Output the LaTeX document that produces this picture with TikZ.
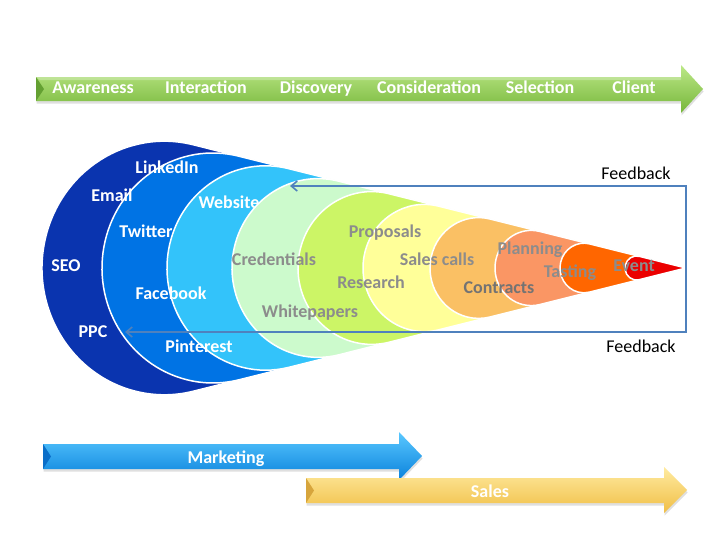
\documentclass[tikz,border=0pt]{standalone}
\usepackage{fontspec}
\setmainfont{Carlito}
\usetikzlibrary{arrows.meta,shadows}
\definecolor{lay1}{RGB}{10,52,175}
\definecolor{lay2}{RGB}{0,115,228}
\definecolor{lay3}{RGB}{51,195,250}
\definecolor{lay4}{RGB}{204,250,204}
\definecolor{lay5}{RGB}{204,245,102}
\definecolor{lay6}{RGB}{255,255,153}
\definecolor{lay7}{RGB}{250,192,100}
\definecolor{lay8}{RGB}{250,150,100}
\definecolor{lay9}{RGB}{255,102,0}
\definecolor{lay10}{RGB}{235,0,0}
\definecolor{greytxt}{RGB}{140,140,140}
\definecolor{darkgreytxt}{RGB}{115,115,115}
\definecolor{fbblue}{RGB}{79,129,189}
\definecolor{grLight}{RGB}{188,232,135}
\definecolor{grMain}{RGB}{150,212,85}
\definecolor{grDark}{RGB}{118,182,58}
\definecolor{grBevel}{RGB}{100,160,50}
\definecolor{blLight}{RGB}{90,200,255}
\definecolor{blMain}{RGB}{20,160,240}
\definecolor{blDark}{RGB}{10,130,220}
\definecolor{blBevel}{RGB}{10,110,200}
\definecolor{yeLight}{RGB}{255,235,160}
\definecolor{yeMain}{RGB}{255,215,100}
\definecolor{yeDark}{RGB}{240,190,70}
\definecolor{yeBevel}{RGB}{215,165,60}
\newcommand\funnellayer[2]{%
  \pgfmathsetmacro\fL{686-#1}%
  \pgfmathsetmacro\frx{0.19*\fL}%
  \pgfmathsetmacro\fry{0.1969*\fL}%
  \pgfmathsetmacro\fxc{#1+\frx}%
  \pgfmathsetmacro\fth{acos(0.19/0.81)}%
  \pgfmathsetmacro\fsx{\fxc+\frx*cos(\fth)}%
  \pgfmathsetmacro\fsy{268-\fry*sin(\fth)}%
  \filldraw[layer, fill=#2] (tip) -- (\fsx,\fsy)
    arc[start angle=\fth, end angle=360-\fth, x radius=\frx pt, y radius=\fry pt] -- cycle;}
\tikzset{
  lab/.style={font=\fontsize{18}{20}\selectfont\bfseries, inner sep=0pt, anchor=base},
  wlab/.style={lab, text=white},
  glab/.style={lab, text=greytxt},
  dglab/.style={lab, text=darkgreytxt},
  fbtext/.style={font=\fontsize{18}{20}\selectfont, inner sep=0pt, anchor=base, text=black},
  layer/.style={draw=white, line width=1.5pt, line join=round},
  fbline/.style={draw=fbblue, line width=1.6pt,
    {Straight Barb[length=6pt,width=10pt]}-{Straight Barb[length=6pt,width=10pt]}},
  blockarrow/.style={draw=none, drop shadow={opacity=0.25, shadow xshift=0.5pt, shadow yshift=-2.5pt}},
  greenarrow/.style={blockarrow, top color=grLight, middle color=grMain, bottom color=grDark},
  bluearrow/.style={blockarrow, top color=blLight, middle color=blMain, bottom color=blDark},
  yellowarrow/.style={blockarrow, top color=yeLight, middle color=yeMain, bottom color=yeDark}
}
\begin{document}
\begin{tikzpicture}[x=1pt, y=-1pt]
\useasboundingbox[fill=white] (0,0) rectangle (728,546);

% top stage arrow
\path[greenarrow] (36,77) -- (681,77) -- (681,65) -- (703,89) -- (681,113) -- (681,101) -- (36,101) -- cycle;
\fill[grBevel] (36,77) -- (44,89) -- (36,101) -- cycle;
\fill[white, opacity=0.25] (36,77) -- (681,77) -- (681,80) -- (40,80) -- cycle;
\node[wlab] (aw) at (93,93) {Awareness};
\node[wlab] (in) at (206,93) {Interaction};
\node[wlab] (di) at (316,93) {Discovery};
\node[wlab] (co) at (429,93) {Consideration};
\node[wlab] (se) at (540,93) {Selection};
\node[wlab] (cl) at (634,93) {Client};

% funnel
\coordinate (tip) at (686,268);
\funnellayer{42}{lay1}
\funnellayer{102}{lay2}
\funnellayer{167}{lay3}
\node[wlab] (website) at (229,208) {Website};
\funnellayer{232}{lay4}
\funnellayer{298}{lay5}
\funnellayer{363}{lay6}
\funnellayer{430}{lay7}
\funnellayer{495}{lay8}
\funnellayer{560}{lay9}
\funnellayer{625}{lay10}

\node[wlab] (linkedin) at (167,173) {LinkedIn};
\node[wlab] (email) at (112,201) {Email};
\node[wlab] (twitter) at (146,237) {Twitter};
\node[wlab] (seo) at (66,271) {SEO};
\node[wlab] (facebook) at (171,299) {Facebook};
\node[wlab] (ppc) at (93,337) {PPC};
\node[wlab] (pinterest) at (199,352) {Pinterest};
\node[glab] (credentials) at (274,265) {Credentials};
\node[glab] (whitepapers) at (310,317) {Whitepapers};
\node[glab] (proposals) at (385,237) {Proposals};
\node[glab] (research) at (371,288) {Research};
\node[glab] (salescalls) at (437,265) {Sales calls};
\node[dglab] (contracts) at (499,293) {Contracts};
\node[glab] (planning) at (530,254) {Planning};
\node[glab] (tasting) at (570,277) {Tasting};
\node[glab] (event) at (634,271) {Event};

% feedback loop
\coordinate (fbtop) at (290,186);
\coordinate (fbtr) at (686,186);
\coordinate (fbbr) at (686,332);
\coordinate (fbbot) at (125,332);
\draw[fbline] (fbtop) -- (fbtr) -- (fbbr) -- (fbbot);
\node[fbtext] (fb1) at (636,179) {Feedback};
\node[fbtext] (fb2) at (641,352) {Feedback};

% marketing arrow
\path[bluearrow] (43,444) -- (399,444) -- (399,432) -- (422,456) -- (399,480) -- (399,469) -- (43,469) -- cycle;
\fill[blBevel] (43,444) -- (51,456.5) -- (43,469) -- cycle;
\node[wlab] (marketing) at (226,463) {Marketing};

% sales arrow
\path[yellowarrow] (306,478) -- (664,478) -- (664,467) -- (687,490) -- (664,513) -- (664,503) -- (306,503) -- cycle;
\fill[yeBevel] (306,478) -- (314,490.5) -- (306,503) -- cycle;
\node[wlab] (sales) at (490,497) {Sales};
\end{tikzpicture}
\end{document}
